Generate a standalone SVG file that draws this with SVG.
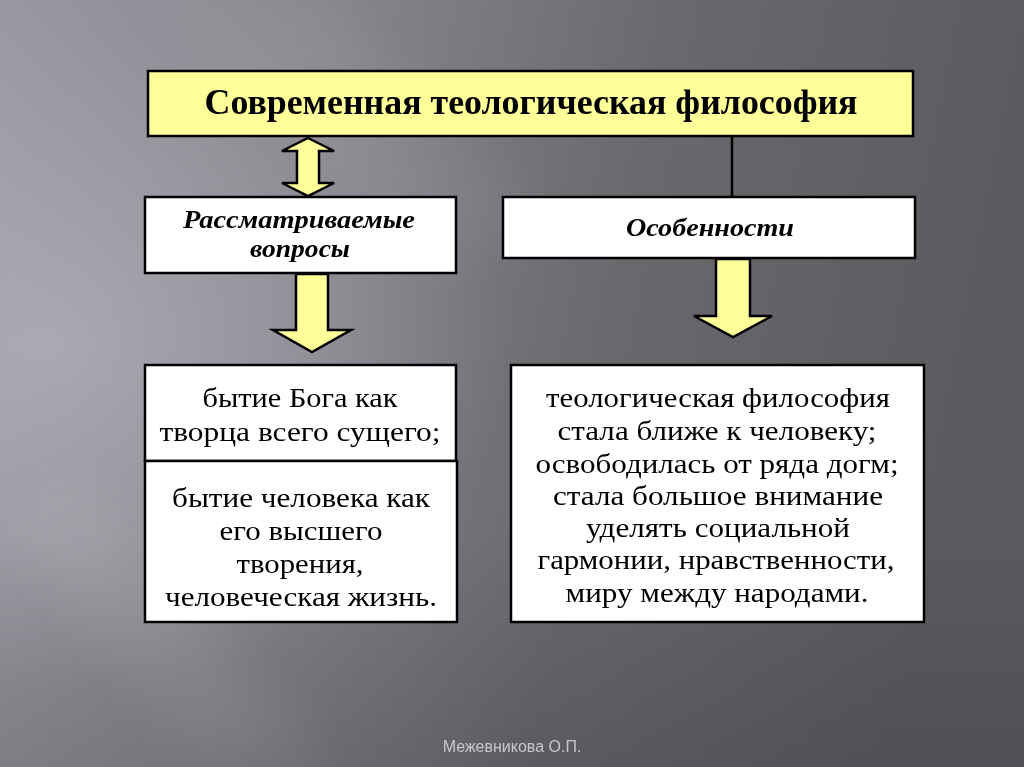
<svg xmlns="http://www.w3.org/2000/svg" width="1024" height="767" viewBox="0 0 1024 767">
<defs>
<linearGradient id="bg" x1="0" y1="0" x2="1" y2="0.15">
<stop offset="0" stop-color="#9b97a1"/>
<stop offset="0.35" stop-color="#85828a"/>
<stop offset="0.65" stop-color="#6a676d"/>
<stop offset="1" stop-color="#5c5a5f"/>
</linearGradient>
<radialGradient id="glow" cx="0.05" cy="0.45" r="0.45">
<stop offset="0" stop-color="#c4c0cc" stop-opacity="0.5"/>
<stop offset="1" stop-color="#c4c0cc" stop-opacity="0"/>
</radialGradient>
<linearGradient id="shade" x1="0" y1="0" x2="0" y2="1">
<stop offset="0" stop-color="#000" stop-opacity="0"/>
<stop offset="0.7" stop-color="#000" stop-opacity="0"/>
<stop offset="1" stop-color="#000" stop-opacity="0.12"/>
</linearGradient>
<filter id="blur"><feGaussianBlur stdDeviation="25"/></filter>
<style>
.box{stroke:#000;stroke-width:2.5}
.yel{fill:#ffff99}
.wht{fill:#ffffff}
.arr{fill:#ffff99;stroke:#000;stroke-width:2.5;stroke-linejoin:miter}
.title{font-family:"Liberation Serif","Times New Roman",serif;font-weight:bold;font-size:35px;fill:#000;text-anchor:middle}
.sub{font-family:"Liberation Serif","Times New Roman",serif;font-weight:bold;font-style:italic;font-size:26px;fill:#000;text-anchor:middle}
.body{font-family:"Liberation Serif","Times New Roman",serif;font-size:27px;fill:#000;text-anchor:middle}
.foot{font-family:"Liberation Sans",Arial,sans-serif;font-size:16px;fill:#c8c6ca;text-anchor:middle}
</style>
</defs>
<rect width="1024" height="767" fill="url(#bg)"/>
<rect width="1024" height="767" fill="url(#glow)"/>
<g filter="url(#blur)">
<polygon points="150,0 330,0 560,230 420,260" fill="#ffffff" opacity="0.06"/>
<polygon points="0,520 80,470 330,767 200,767" fill="#ffffff" opacity="0.07"/>
</g>
<rect width="1024" height="767" fill="url(#shade)"/>
<g id="connectors">
<line x1="732" y1="136" x2="732" y2="197" stroke="#000" stroke-width="2.5"/>
<polygon class="arr" points="308,138 334,151 319,151 319,183 334,183 308,196 282,183 297,183 297,151 282,151"/>
<polygon class="arr" points="296,274 328,274 328,330 351,330 312,352 273,330 296,330"/>
<polygon class="arr" points="716,259 750,259 750,316 772,316 733,337 694,316 716,316"/>
</g>
<g id="node-title">
<rect class="box yel" x="148" y="71" width="765" height="65"/>
<text class="title" x="531" y="114" textLength="653" lengthAdjust="spacingAndGlyphs">Современная теологическая философия</text>
</g>
<g id="node-questions">
<rect class="box wht" x="145" y="197" width="311" height="76"/>
<text class="sub" x="299" y="228" textLength="232" lengthAdjust="spacingAndGlyphs">Рассматриваемые</text>
<text class="sub" x="300" y="257" textLength="100" lengthAdjust="spacingAndGlyphs">вопросы</text>
</g>
<g id="node-features">
<rect class="box wht" x="503" y="197" width="412" height="61"/>
<text class="sub" x="710" y="236" textLength="168" lengthAdjust="spacingAndGlyphs">Особенности</text>
</g>
<g id="node-god">
<rect class="box wht" x="145" y="365" width="311" height="96"/>
<text class="body" x="300" y="407" textLength="195" lengthAdjust="spacingAndGlyphs">бытие Бога как</text>
<text class="body" x="300" y="441" textLength="281" lengthAdjust="spacingAndGlyphs">творца всего сущего;</text>
</g>
<g id="node-human">
<rect class="box wht" x="145" y="461" width="312" height="161"/>
<text class="body" x="301" y="507" textLength="258" lengthAdjust="spacingAndGlyphs">бытие человека как</text>
<text class="body" x="301" y="540" textLength="163" lengthAdjust="spacingAndGlyphs">его высшего</text>
<text class="body" x="300" y="573" textLength="127" lengthAdjust="spacingAndGlyphs">творения,</text>
<text class="body" x="301" y="606" textLength="272" lengthAdjust="spacingAndGlyphs">человеческая жизнь.</text>
</g>
<g id="node-details">
<rect class="box wht" x="511" y="365" width="413" height="257"/>
<text class="body" x="718" y="407" textLength="344" lengthAdjust="spacingAndGlyphs">теологическая философия</text>
<text class="body" x="717" y="440" textLength="319" lengthAdjust="spacingAndGlyphs">стала ближе к человеку;</text>
<text class="body" x="717" y="473" textLength="363" lengthAdjust="spacingAndGlyphs">освободилась от ряда догм;</text>
<text class="body" x="718" y="505" textLength="330" lengthAdjust="spacingAndGlyphs">стала большое внимание</text>
<text class="body" x="718" y="537" textLength="264" lengthAdjust="spacingAndGlyphs">уделять социальной</text>
<text class="body" x="716" y="569" textLength="357" lengthAdjust="spacingAndGlyphs">гармонии, нравственности,</text>
<text class="body" x="717" y="602" textLength="303" lengthAdjust="spacingAndGlyphs">миру между народами.</text>
</g>
<text class="foot" x="512" y="752">Межевникова О.П.</text>
</svg>
